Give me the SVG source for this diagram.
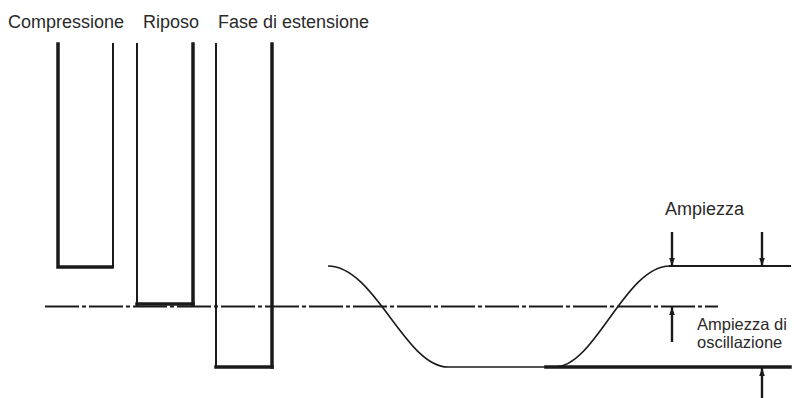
<svg xmlns="http://www.w3.org/2000/svg" width="794" height="398" viewBox="0 0 794 398">
<style>
  .lbl { font-family: "Liberation Sans", Arial, sans-serif; font-size: 18px; fill: #2a2a2a; }
  .lbl2 { font-family: "Liberation Sans", Arial, sans-serif; font-size: 16.5px; fill: #2a2a2a; }
  .thick { stroke: #1a1a1a; stroke-width: 3.5; fill: none; stroke-linecap: square; }
  .thin { stroke: #1a1a1a; stroke-width: 2; fill: none; stroke-linecap: square; }
  .curve { stroke: #1a1a1a; stroke-width: 1.6; fill: none; }
  .axis { stroke: #1a1a1a; stroke-width: 2; fill: none; stroke-dasharray: 34 3 4 3; }
  .arr { stroke: #1a1a1a; stroke-width: 2.4; fill: none; }
</style>
<defs>
  <marker id="ah" viewBox="0 0 10 10" refX="10" refY="5" markerWidth="8" markerHeight="8" markerUnits="userSpaceOnUse" orient="auto">
    <path d="M0,1.5 L10,5 L0,8.5 Z" fill="#1a1a1a"/>
  </marker>
</defs>
<rect width="794" height="398" fill="#ffffff"/>

<g id="labels">
  <text class="lbl" x="8" y="28">Compressione</text>
  <text class="lbl" x="143" y="28">Riposo</text>
  <text class="lbl" x="218" y="28">Fase di estensione</text>
  <text class="lbl" x="665" y="215">Ampiezza</text>
  <text class="lbl2" x="697" y="330">Ampiezza di</text>
  <text class="lbl2" x="697" y="348">oscillazione</text>
</g>

<g id="axis">
  <line class="axis" x1="45" y1="306.5" x2="718" y2="306.5"/>
</g>

<g id="compressione">
  <path class="thick" d="M58,44 L58,267 L112,267"/>
  <path class="thin" d="M113,44 L113,267"/>
</g>

<g id="riposo">
  <path class="thin" d="M137,44 L137,305"/>
  <path class="thick" d="M137,304 L193,304"/>
  <path class="thick" d="M193,44 L193,305"/>
</g>

<g id="estensione">
  <path class="thin" d="M216,44 L216,367"/>
  <path class="thick" d="M216,367 L272,367"/>
  <path class="thick" d="M272,44 L272,367"/>
</g>

<g id="oscillazione">
  <path class="curve" d="M328,266 C375,266 405,367 448,367 L555,367 C595,367 625,266 670,266"/>
  <line class="thin" x1="670" y1="266" x2="790" y2="266"/>
  <line class="thick" x1="546" y1="367" x2="790" y2="367"/>
</g>

<g id="connectors">
  <line class="arr" x1="672" y1="232" x2="672" y2="266" marker-end="url(#ah)"/>
  <line class="arr" x1="762" y1="232" x2="762" y2="266" marker-end="url(#ah)"/>
  <line class="arr" x1="672" y1="342" x2="672" y2="307" marker-end="url(#ah)"/>
  <line class="arr" x1="762" y1="398" x2="762" y2="368" marker-end="url(#ah)"/>
</g>
</svg>
